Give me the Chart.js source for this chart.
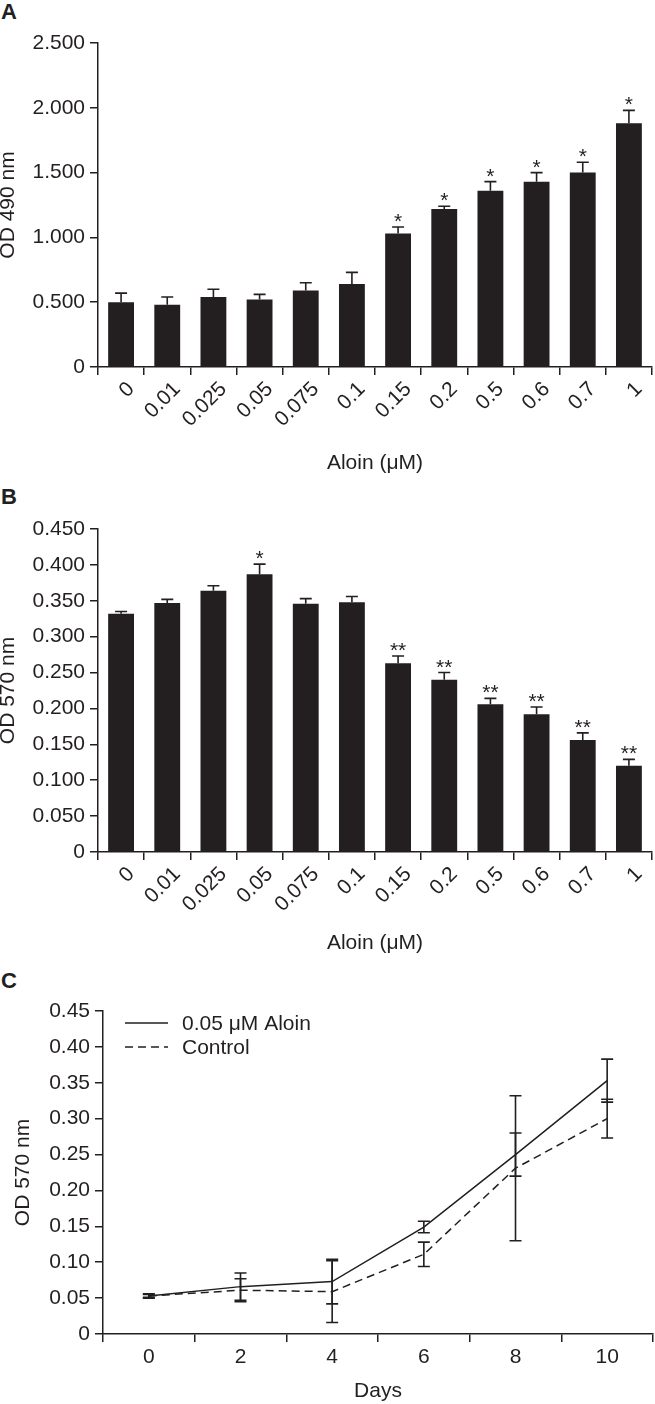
<!DOCTYPE html>
<html>
<head>
<meta charset="utf-8">
<script src="https://cdn.jsdelivr.net/npm/chart.js@4/dist/chart.umd.min.js"></script>
<style>
html, body { margin: 0; padding: 0; background: #fff; }
#wrap { position: relative; width: 655px; height: 1404px; }
.box { position: absolute; left: 0; width: 655px; }
.lbl { position: absolute; left: 1px; font: bold 22px "Liberation Sans", Arial, sans-serif; line-height: 22px; color: #231f20; }
</style>
</head>
<body>
<div id="wrap">
  <div class="lbl" style="top:1px">A</div>
  <div class="box" style="top:0;height:480px"><canvas id="chartA"></canvas></div>
  <div class="lbl" style="top:486px">B</div>
  <div class="box" style="top:480px;height:480px"><canvas id="chartB"></canvas></div>
  <div class="lbl" style="top:970px">C</div>
  <div class="box" style="top:960px;height:444px"><canvas id="chartC"></canvas></div>
</div>
<script>
var ink = '#231f20';
var fontFam = '"Liberation Sans", Arial, Helvetica, sans-serif';

// doses for panels A and B
var aloinDoses = ['0', '0.01', '0.025', '0.05', '0.075', '0.1', '0.15', '0.2', '0.5', '0.6', '0.7', '1'];

// panel A - OD 490
var od490 = [0.50, 0.48, 0.54, 0.52, 0.59, 0.64, 1.03, 1.22, 1.36, 1.43, 1.50, 1.88];
var od490Err = [0.07, 0.06, 0.06, 0.04, 0.06, 0.09, 0.05, 0.02, 0.07, 0.07, 0.08, 0.10];
var od490Stars = ['', '', '', '', '', '', '*', '*', '*', '*', '*', '*'];

// panel B - OD 570
var od570 = [0.332, 0.347, 0.364, 0.387, 0.346, 0.348, 0.263, 0.240, 0.206, 0.192, 0.156, 0.120];
var od570Err = [0.003, 0.005, 0.007, 0.014, 0.007, 0.008, 0.010, 0.010, 0.008, 0.010, 0.010, 0.009];
var od570Stars = ['', '', '', '*', '', '', '**', '**', '**', '**', '**', '**'];

// panel C - growth over days
var days = ['0', '2', '4', '6', '8', '10'];
var aloinGrowth = [0.053, 0.066, 0.073, 0.149, 0.250, 0.353];
var aloinGrowthErr = [0.003, 0.019, 0.031, 0.008, 0.030, 0.030];
var controlGrowth = [0.053, 0.061, 0.059, 0.111, 0.231, 0.300];
var controlGrowthErr = [0.002, 0.016, 0.043, 0.017, 0.101, 0.027];

Chart.defaults.font.family = fontFam;
Chart.defaults.color = ink;

// error bars (+ stars) drawn through the y scale
var errBars = {
  id: 'errBars',
  afterDatasetsDraw: function(chart, args, opts) {
    var ctx = chart.ctx, ys = chart.scales.y;
    ctx.save();
    ctx.strokeStyle = ink;
    ctx.fillStyle = ink;
    ctx.lineWidth = 1.6;
    ctx.setLineDash([]);
    chart.data.datasets.forEach(function(ds, di) {
      var meta = chart.getDatasetMeta(di);
      var errs = opts.errors[di];
      meta.data.forEach(function(el, i) {
        var v = ds.data[i], e = errs[i];
        var x = el.x;
        var yHi = ys.getPixelForValue(v + e);
        var yLo = opts.both ? ys.getPixelForValue(v - e) : ys.getPixelForValue(v);
        ctx.beginPath();
        ctx.moveTo(x, yLo); ctx.lineTo(x, yHi);
        ctx.moveTo(x - 6, yHi); ctx.lineTo(x + 6, yHi);
        if (opts.both) { ctx.moveTo(x - 6, yLo); ctx.lineTo(x + 6, yLo); }
        ctx.stroke();
        if (opts.stars && opts.stars[i]) {
          ctx.font = '21px ' + fontFam;
          ctx.textAlign = 'center';
          ctx.textBaseline = 'alphabetic';
          ctx.fillText(opts.stars[i], x, yHi + 1);
        }
      });
    });
    ctx.restore();
  }
};

// legend with line samples in the top-left of the plot area
var lineLegend = {
  id: 'lineLegend',
  afterDraw: function(chart) {
    var ctx = chart.ctx, a = chart.chartArea;
    ctx.save();
    ctx.font = '21px ' + fontFam;
    ctx.fillStyle = ink;
    ctx.strokeStyle = ink;
    ctx.lineWidth = 1.5;
    ctx.textBaseline = 'middle';
    chart.data.datasets.forEach(function(ds, i) {
      var y = a.top + 12 + i * 24;
      ctx.setLineDash(ds.borderDash || []);
      ctx.beginPath();
      ctx.moveTo(a.left + 22, y); ctx.lineTo(a.left + 65, y);
      ctx.stroke();
      ctx.fillText(ds.label, a.left + 79, y + 1);
    });
    ctx.restore();
  }
};

function fmt(d) {
  return function(v) { return v === 0 ? '0' : Number(v).toFixed(d); };
}

function axisGrid() {
  return { display: true, drawOnChartArea: false, drawTicks: true, tickLength: 8, color: ink, lineWidth: 1.5 };
}

function barOptions(yMax, yStep, digits, yTitle, errs, stars, top) {
  return {
    responsive: true,
    maintainAspectRatio: false,
    animation: false,
    layout: { padding: { top: top, right: 3, left: 0, bottom: 0 } },
    plugins: {
      legend: { display: false },
      tooltip: { enabled: false },
      errBars: { errors: [errs], stars: stars, both: false }
    },
    scales: {
      x: {
        type: 'category',
        offset: true,
        grid: Object.assign(axisGrid(), { offset: true }),
        border: { display: true, color: ink, width: 1.5 },
        ticks: { autoSkip: false, minRotation: 45, maxRotation: 45, padding: 2, labelOffset: 10, color: ink, font: { size: 21 } },
        title: { display: true, text: 'Aloin (\u03bcM)', color: ink, font: { size: 21 }, padding: { top: 0, bottom: 4 } },
        afterFit: function(s) { s.height = 113; }
      },
      y: {
        min: 0, max: yMax,
        grid: axisGrid(),
        border: { display: true, color: ink, width: 1.5 },
        ticks: { stepSize: yStep, padding: 5, color: ink, font: { size: 21 }, callback: fmt(digits) },
        title: { display: true, text: yTitle, color: ink, font: { size: 21, lineHeight: 0.8 }, padding: 0 },
        afterFit: function(s) { s.width = 98; }
      }
    }
  };
}

new Chart(document.getElementById('chartA'), {
  type: 'bar',
  data: {
    labels: aloinDoses,
    datasets: [{ data: od490, backgroundColor: ink, barPercentage: 0.56, categoryPercentage: 1 }]
  },
  options: barOptions(2.5, 0.5, 3, 'OD 490 nm', od490Err, od490Stars, 43),
  plugins: [errBars]
});

var optB = barOptions(0.45, 0.05, 3, 'OD 570 nm', od570Err, od570Stars, 49);
optB.scales.x.afterFit = function(s) { s.height = 108; };
new Chart(document.getElementById('chartB'), {
  type: 'bar',
  data: {
    labels: aloinDoses,
    datasets: [{ data: od570, backgroundColor: ink, barPercentage: 0.56, categoryPercentage: 1 }]
  },
  options: optB,
  plugins: [errBars]
});

new Chart(document.getElementById('chartC'), {
  type: 'line',
  data: {
    labels: days,
    datasets: [
      { label: '0.05 \u03bcM Aloin', data: aloinGrowth, borderColor: ink, borderWidth: 1.5, pointRadius: 0, tension: 0, fill: false },
      { label: 'Control', data: controlGrowth, borderColor: ink, borderWidth: 1.5, borderDash: [8, 5], pointRadius: 0, tension: 0, fill: false }
    ]
  },
  options: {
    responsive: true,
    maintainAspectRatio: false,
    animation: false,
    layout: { padding: { top: 51, right: 2, left: 0, bottom: 0 } },
    plugins: {
      legend: { display: false },
      tooltip: { enabled: false },
      errBars: { errors: [aloinGrowthErr, controlGrowthErr], both: true }
    },
    scales: {
      x: {
        type: 'category',
        offset: true,
        grid: Object.assign(axisGrid(), { offset: true }),
        border: { display: true, color: ink, width: 1.5 },
        ticks: { autoSkip: false, maxRotation: 0, padding: 3, color: ink, font: { size: 21 } },
        title: { display: true, text: 'Days', color: ink, font: { size: 21 }, padding: 0 },
        afterFit: function(s) { s.height = 70; }
      },
      y: {
        min: 0, max: 0.45,
        grid: axisGrid(),
        border: { display: true, color: ink, width: 1.5 },
        ticks: { stepSize: 0.05, padding: 5, color: ink, font: { size: 21 }, callback: fmt(2) },
        title: { display: true, text: 'OD 570 nm', color: ink, font: { size: 21, lineHeight: 0.8 }, padding: { top: 15 } },
        afterFit: function(s) { s.width = 103; }
      }
    }
  },
  plugins: [errBars, lineLegend]
});
</script>
</body>
</html>
